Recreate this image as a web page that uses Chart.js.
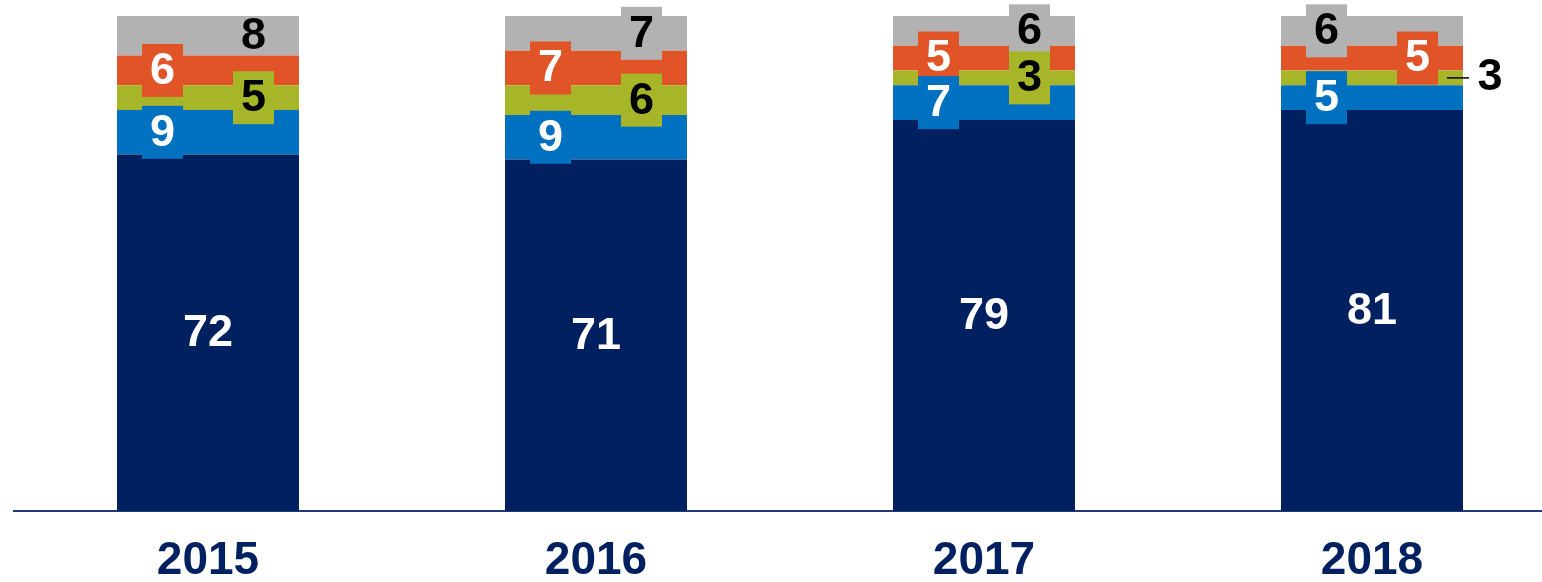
<!DOCTYPE html>
<html>
<head>
<meta charset="utf-8">
<script src="https://cdn.jsdelivr.net/npm/chart.js@4/dist/chart.umd.min.js"></script>
<style>
  body { margin: 0; background: #fff; }
  #wrap { width: 1542px; height: 582px; overflow: hidden; position: relative; }
</style>
</head>
<body>
<div id="wrap"><canvas id="chart" width="1566" height="605"></canvas></div>
<script>
const years = ['2015', '2016', '2017', '2018'];
const navyVals = [72, 71, 79, 81];
const blueVals = [9, 9, 7, 5];
const greenVals = [5, 6, 3, 3];
const orangeVals = [6, 7, 5, 5];
const grayVals = [8, 7, 6, 6];

// where each value label goes: c = centre, l/r = left/right quarter (R = no fill box), o = outside with leader
const navyPos = ['c', 'c', 'c', 'c'];
const bluePos = ['l', 'l', 'l', 'l'];
const greenPos = ['r', 'r', 'r', 'o'];
const orangePos = ['l', 'l', 'l', 'r'];
const grayPos = ['R', 'r', 'r', 'l'];

const NAVY = '#00205f';
const BLUE = '#0071c1';
const GREEN = '#a7b629';
const ORANGE = '#e05428';
const GRAY = '#b2b2b2';

const datasets = [
  { data: navyVals, backgroundColor: NAVY, pos: navyPos, textColor: '#fff' },
  { data: blueVals, backgroundColor: BLUE, pos: bluePos, textColor: '#fff' },
  { data: greenVals, backgroundColor: GREEN, pos: greenPos, textColor: '#000' },
  { data: orangeVals, backgroundColor: ORANGE, pos: orangePos, textColor: '#fff' },
  { data: grayVals, backgroundColor: GRAY, pos: grayPos, textColor: '#000' }
];

const labelPlugin = {
  id: 'segLabels',
  afterDatasetsDraw(chart) {
    const ctx = chart.ctx;
    ctx.save();
    ctx.font = 'bold 45px "Liberation Sans", Arial, sans-serif';
    ctx.textAlign = 'center';
    ctx.textBaseline = 'middle';
    // top series first so lower labels sit over them
    for (let i = chart.data.datasets.length - 1; i >= 0; i--) {
      const ds = chart.data.datasets[i];
      const meta = chart.getDatasetMeta(i);
      meta.data.forEach((bar, j) => {
        const p = ds.pos[j];
        const left = bar.x - bar.width / 2;
        const right = bar.x + bar.width / 2;
        const cy = (bar.y + bar.base) / 2;
        const txt = String(ds.data[j]);
        let cx = bar.x;
        if (p === 'l') cx = left + bar.width / 4;
        if (p === 'r' || p === 'R') cx = right - bar.width / 4;
        if (p === 'o') {
          ctx.strokeStyle = '#000';
          ctx.lineWidth = 1.5;
          ctx.beginPath();
          ctx.moveTo(right - 16, cy);
          ctx.lineTo(right + 6, cy);
          ctx.stroke();
          ctx.fillStyle = '#000';
          ctx.fillText(txt, right + 27, cy);
          return;
        }
        if (p === 'l' || p === 'r') {
          const w = ctx.measureText(txt).width + 16;
          ctx.fillStyle = ds.backgroundColor;
          ctx.fillRect(cx - w / 2, cy - 26.5, w, 53);
        }
        ctx.fillStyle = ds.textColor;
        ctx.fillText(txt, cx, cy + 1);
      });
    }
    ctx.restore();
  }
};

new Chart(document.getElementById('chart'), {
  type: 'bar',
  data: { labels: years, datasets: datasets },
  options: {
    responsive: false,
    animation: false,
    layout: { padding: { left: 14, right: 0, top: 16, bottom: 2 } },
    categoryPercentage: 1,
    barPercentage: 0.469,
    plugins: { legend: { display: false }, tooltip: { enabled: false } },
    scales: {
      x: {
        stacked: true,
        grid: { display: false },
        border: { display: true, color: '#1f3a78', width: 2 },
        ticks: {
          color: NAVY,
          padding: 19,
          font: { family: '"Liberation Sans", Arial, sans-serif', size: 46, weight: 'bold', lineHeight: 1 }
        }
      },
      y: { stacked: true, display: false, min: 0, max: 100 }
    }
  },
  plugins: [labelPlugin]
});
</script>
</body>
</html>
